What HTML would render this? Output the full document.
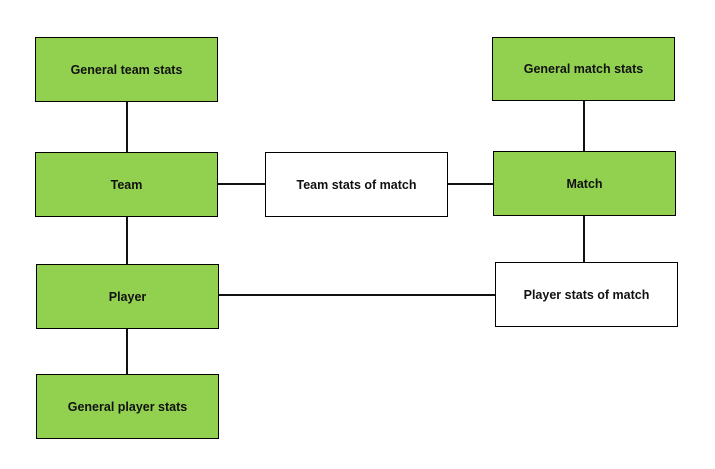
<!DOCTYPE html>
<html><head><style>
body{margin:0;width:715px;height:469px;background:#fff;position:relative;overflow:hidden;font-family:"Liberation Sans",sans-serif}
.b{position:absolute;box-sizing:border-box;border:1.5px solid #000;display:flex;align-items:center;justify-content:center;font-weight:bold;font-size:12.5px;color:#111}
.g{background:#92d050}
.l{position:absolute;background:#111}
</style></head><body>
<div class="l" style="left:126px;top:101px;width:2px;height:52px"></div>
<div class="l" style="left:126px;top:216px;width:2px;height:49px"></div>
<div class="l" style="left:126px;top:328px;width:2px;height:47px"></div>
<div class="l" style="left:583px;top:100px;width:2px;height:52px"></div>
<div class="l" style="left:583px;top:215px;width:2px;height:48px"></div>
<div class="l" style="left:217px;top:183px;width:49px;height:2px"></div>
<div class="l" style="left:447px;top:183px;width:47px;height:2px"></div>
<div class="l" style="left:218px;top:294px;width:278px;height:2px"></div>
<div class="b g" style="left:35px;top:37px;width:183px;height:65px">General team stats</div>
<div class="b g" style="left:35px;top:152px;width:183px;height:65px">Team</div>
<div class="b g" style="left:36px;top:264px;width:183px;height:65px">Player</div>
<div class="b g" style="left:36px;top:374px;width:183px;height:65px">General player stats</div>
<div class="b" style="left:265px;top:152px;width:183px;height:65px">Team stats of match</div>
<div class="b g" style="left:493px;top:151px;width:183px;height:65px">Match</div>
<div class="b g" style="left:492px;top:37px;width:183px;height:64px">General match stats</div>
<div class="b" style="left:495px;top:262px;width:183px;height:65px">Player stats of match</div>
</body></html>
